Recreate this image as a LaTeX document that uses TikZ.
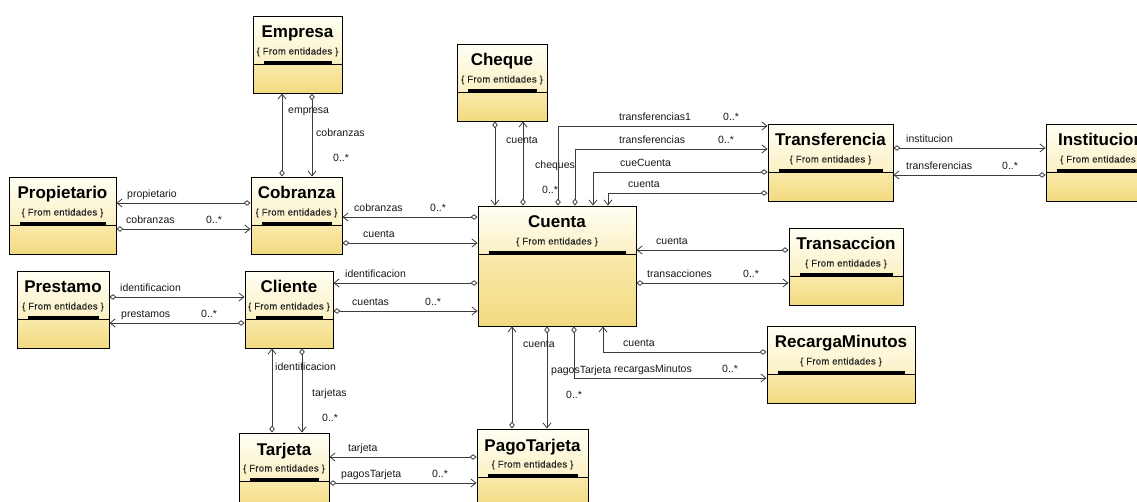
\documentclass[tikz,border=0pt]{standalone}
\usepackage{fontspec}
\setmainfont{Liberation Sans}
\newfontfamily\fromfont[LetterSpace=3,FakeBold=0.6]{Liberation Sans}
\usetikzlibrary{arrows.meta}

\definecolor{headtop}{RGB}{255,255,244}
\definecolor{headbot}{RGB}{251,240,196}
\definecolor{comptop}{RGB}{249,234,172}
\definecolor{compbot}{RGB}{243,218,128}
\definecolor{linecol}{RGB}{60,60,60}

% class box: name, left, top, right, bottom, title
\newcommand{\classbox}[6]{%
  \shade[top color=headtop, bottom color=headbot] (#2,#3) rectangle (#4,#3+48);
  \shade[top color=comptop, bottom color=compbot] (#2,#3+48) rectangle (#4,#5);
  \draw[line width=2.6pt] (#2+11,#3+46.6) -- (#4-10,#3+46.6);
  \draw[line width=0.8pt] (#2,#3+48) -- (#4,#3+48);
  \node[classnode, minimum width={(#4-#2)*1pt}, minimum height={(#5-#3)*1pt}]
    (#1) at ({(#2+#4)/2},{(#3+#5)/2}) {};
  \node[classtitle] (#1-title) at ({(#2+#4)/2},#3+22) {#6};
  \node[classfrom] (#1-from) at ({(#2+#4)/2},#3+38.5) {\{ From entidades \}};
}

\begin{document}
\begin{tikzpicture}[x=1pt,y=-1pt,
  classnode/.style={draw, rectangle, inner sep=0pt, line width=0.9pt},
  classtitle/.style={anchor=base, inner sep=0pt, font=\fontsize{17}{20}\selectfont\bfseries},
  classfrom/.style={anchor=base, inner sep=0pt, text=black!85, font=\fromfont\fontsize{9.5}{11}\selectfont},
  lbl/.style={anchor=base west, inner sep=0pt, text=black!90, font=\fontsize{10.5}{12}\selectfont},
  assoc/.style={draw=linecol, line width=0.8pt},
  da/.style={assoc, {Diamond[open,length=7pt,width=5.5pt]}-{Straight Barb[length=5pt,width=8pt]}},
  ad/.style={assoc, {Straight Barb[length=5pt,width=8pt]}-{Diamond[open,length=7pt,width=5.5pt]}}]

\useasboundingbox (0,0) rectangle (1137,502);
\clip (0,0) rectangle (1137,502);
\fill[white] (0,0) rectangle (1137,502);

% =========================
% classes
% =========================
\classbox{empresa}{253}{16}{342}{93}{Empresa}
\classbox{cheque}{457}{44}{547}{121}{Cheque}
\classbox{propietario}{9}{177}{116}{254}{Propietario}
\classbox{cobranza}{251}{177}{342}{254}{Cobranza}
\classbox{transferencia}{768}{124}{893}{201}{Transferencia}
\classbox{institucion}{1046}{124}{1156}{201}{Institucion}
\classbox{cuenta}{478}{206}{636}{326}{Cuenta}
\classbox{transaccion}{789}{228}{903}{305}{Transaccion}
\classbox{prestamo}{17}{271}{109}{348}{Prestamo}
\classbox{cliente}{245}{271}{333}{348}{Cliente}
\classbox{recarga}{767}{326}{915}{403}{RecargaMinutos}
\classbox{tarjeta}{239}{433}{329}{510}{Tarjeta}
\classbox{pago}{477}{429}{588}{506}{PagoTarjeta}

% =========================
% associations
% =========================
% Empresa - Cobranza
\draw[ad] (empresa.south -| 282,0) -- (cobranza.north -| 282,0);
\draw[da] (empresa.south -| 312,0) -- (cobranza.north -| 312,0);
\node[lbl] (emp-a) at (288,114) {empresa};
\node[lbl] (emp-b) at (316,137) {cobranzas};
\node[lbl] (emp-c) at (333,162) {0..*};

% Propietario - Cobranza
\draw[ad] (propietario.east |- 0,203) -- (cobranza.west |- 0,203);
\draw[da] (propietario.east |- 0,229) -- (cobranza.west |- 0,229);
\node[lbl] (pro-a) at (127,197.5) {propietario};
\node[lbl] (pro-b) at (126,223.5) {cobranzas};
\node[lbl] (pro-c) at (206,223.5) {0..*};

% Cobranza - Cuenta
\draw[ad] (cobranza.east |- 0,217) -- (cuenta.west |- 0,217);
\draw[da] (cobranza.east |- 0,243) -- (cuenta.west |- 0,243);
\node[lbl] (cob-a) at (354,211.5) {cobranzas};
\node[lbl] (cob-b) at (430,211.5) {0..*};
\node[lbl] (cob-c) at (363,237.5) {cuenta};

% Prestamo - Cliente
\draw[da] (prestamo.east |- 0,297) -- (cliente.west |- 0,297);
\draw[ad] (prestamo.east |- 0,323) -- (cliente.west |- 0,323);
\node[lbl] (pre-a) at (120,291.5) {identificacion};
\node[lbl] (pre-b) at (121,317.5) {prestamos};
\node[lbl] (pre-c) at (201,317.5) {0..*};

% Cliente - Cuenta
\draw[ad] (cliente.east |- 0,283) -- (cuenta.west |- 0,283);
\draw[da] (cliente.east |- 0,311) -- (cuenta.west |- 0,311);
\node[lbl] (cli-a) at (345,277.5) {identificacion};
\node[lbl] (cli-b) at (352,305.5) {cuentas};
\node[lbl] (cli-c) at (425,305.5) {0..*};

% Cliente - Tarjeta
\draw[ad] (cliente.south -| 272,0) -- (tarjeta.north -| 272,0);
\draw[da] (cliente.south -| 302,0) -- (tarjeta.north -| 302,0);
\node[lbl] (tar-a) at (275,370) {identificacion};
\node[lbl] (tar-b) at (312,396) {tarjetas};
\node[lbl] (tar-c) at (322,421) {0..*};

% Tarjeta - PagoTarjeta
\draw[ad] (tarjeta.east |- 0,457) -- (pago.west |- 0,457);
\draw[da] (tarjeta.east |- 0,483) -- (pago.west |- 0,483);
\node[lbl] (pag-a) at (348,451.5) {tarjeta};
\node[lbl] (pag-b) at (341,477.5) {pagosTarjeta};
\node[lbl] (pag-c) at (432,477.5) {0..*};

% Cuenta - PagoTarjeta
\draw[ad] (cuenta.south -| 512,0) -- (pago.north -| 512,0);
\draw[da] (cuenta.south -| 547,0) -- (pago.north -| 547,0);
\node[lbl] (cpa-a) at (523,348) {cuenta};
\node[lbl] (cpa-b) at (551,373) {pagosTarjeta};
\node[lbl] (cpa-c) at (566,398) {0..*};

% Cuenta - RecargaMinutos
\draw[da] (cuenta.south -| 574,0) |- (recarga.west |- 0,378);
\draw[da] (recarga.west |- 0,352) -| (cuenta.south -| 603,0);
\node[lbl] (rec-a) at (623,346.5) {cuenta};
\node[lbl] (rec-b) at (614,372.5) {recargasMinutos};
\node[lbl] (rec-c) at (722,372.5) {0..*};

% Cuenta - Transaccion
\draw[ad] (cuenta.east |- 0,250) -- (transaccion.west |- 0,250);
\draw[da] (cuenta.east |- 0,283) -- (transaccion.west |- 0,283);
\node[lbl] (tra-a) at (656,244.5) {cuenta};
\node[lbl] (tra-b) at (647,277.5) {transacciones};
\node[lbl] (tra-c) at (743,277.5) {0..*};

% Cheque - Cuenta
\draw[da] (cheque.south -| 495,0) -- (cuenta.north -| 495,0);
\draw[ad] (cheque.south -| 523,0) -- (cuenta.north -| 523,0);
\node[lbl] (che-a) at (506,144) {cuenta};
\node[lbl] (che-b) at (535,169) {cheques};
\node[lbl] (che-c) at (542,194) {0..*};

% Cuenta - Transferencia
\draw[da] (cuenta.north -| 558,0) |- (transferencia.west |- 0,126);
\draw[da] (cuenta.north -| 575,0) |- (transferencia.west |- 0,149);
\draw[da] (transferencia.west |- 0,172) -| (cuenta.north -| 593,0);
\draw[da] (transferencia.west |- 0,193) -| (cuenta.north -| 608,0);
\node[lbl] (trf-a) at (619,120.5) {transferencias1};
\node[lbl] (trf-b) at (723,120.5) {0..*};
\node[lbl] (trf-c) at (619,143.5) {transferencias};
\node[lbl] (trf-d) at (718,143.5) {0..*};
\node[lbl] (trf-e) at (620,166.5) {cueCuenta};
\node[lbl] (trf-f) at (628,187.5) {cuenta};

% Transferencia - Institucion
\draw[da] (transferencia.east |- 0,148) -- (institucion.west |- 0,148);
\draw[ad] (transferencia.east |- 0,175) -- (institucion.west |- 0,175);
\node[lbl] (ins-a) at (906,142.5) {institucion};
\node[lbl] (ins-b) at (906,169.5) {transferencias};
\node[lbl] (ins-c) at (1002,169.5) {0..*};

\end{tikzpicture}
\end{document}
